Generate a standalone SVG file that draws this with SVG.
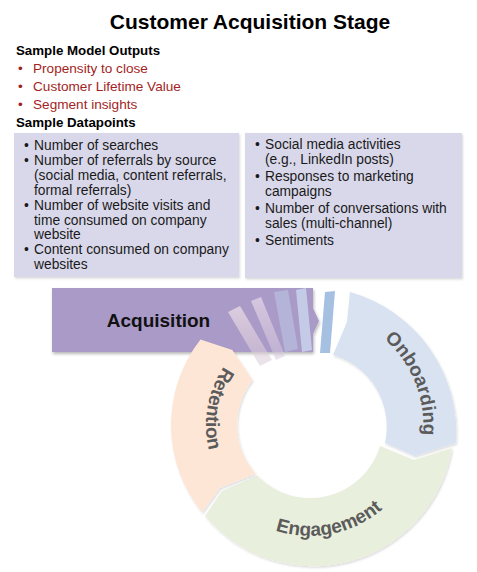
<svg xmlns="http://www.w3.org/2000/svg" width="477" height="572" viewBox="0 0 477 572">
<style>
text{font-family:"Liberation Sans",Arial,sans-serif}
.title{font-size:21px;font-weight:bold;fill:#000}
.hd{font-size:13.3px;font-weight:bold;fill:#000}
.red{font-size:13.6px;fill:#a31f24}
.bx{font-size:13.8px;fill:#1a1a1a}
.box{fill:#d9d8ea}
.lbl{font-size:19px;font-weight:bold;fill:#5b5b5b}
.acq{font-size:19px;font-weight:bold;fill:#111}
</style>
<defs>
<filter id="sh" x="-10%" y="-10%" width="125%" height="130%">
<feDropShadow dx="1" dy="2" stdDeviation="1.5" flood-color="#000" flood-opacity="0.28"/>
</filter>
<filter id="shs" x="-5%" y="-5%" width="112%" height="115%">
<feDropShadow dx="1" dy="1.5" stdDeviation="1" flood-color="#000" flood-opacity="0.15"/>
</filter>
<linearGradient id="gA" x1="0" y1="0" x2="0" y2="1">
<stop offset="0" stop-color="#e6d6e3" stop-opacity="0.85"/>
<stop offset="1" stop-color="#d8c8d6" stop-opacity="0.5"/>
</linearGradient>
<linearGradient id="gB" x1="0" y1="0" x2="0" y2="1">
<stop offset="0" stop-color="#e2d2e4" stop-opacity="0.8"/>
<stop offset="1" stop-color="#d4c6dc" stop-opacity="0.5"/>
</linearGradient>
<path id="pEng" d="M240.6,511.6 A111,111 0 0 0 407.4,478.3"/>
<path id="pOnb" d="M345,317 A113,113 0 0 1 409.8,478"/>
<path id="pRet" d="M258,334.9 A104,104 0 0 0 230.3,491.8"/>
</defs>
<rect width="477" height="572" fill="#fff"/>

<g id="title">
<text class="title" x="250" y="29" text-anchor="middle">Customer Acquisition Stage</text>
</g>

<g id="model-outputs">
<text class="hd" x="16" y="55">Sample Model Outputs</text>
<text class="red" x="18" y="73">•</text><text class="red" x="33" y="73">Propensity to close</text>
<text class="red" x="18" y="91">•</text><text class="red" x="33" y="91">Customer Lifetime Value</text>
<text class="red" x="18" y="109">•</text><text class="red" x="33" y="109">Segment insights</text>
<text class="hd" x="16" y="127">Sample Datapoints</text>
</g>

<g id="datapoints-left">
<rect class="box" x="14" y="133" width="225" height="144" filter="url(#shs)"/>
<text class="bx" x="24" y="150">•</text><text class="bx" x="34" y="150">Number of searches</text>
<text class="bx" x="24" y="165">•</text><text class="bx" x="34" y="165">Number of referrals by source</text>
<text class="bx" x="34" y="180">(social media, content referrals,</text>
<text class="bx" x="34" y="195">formal referrals)</text>
<text class="bx" x="24" y="210">•</text><text class="bx" x="34" y="210">Number of website visits and</text>
<text class="bx" x="34" y="224.5">time consumed on company</text>
<text class="bx" x="34" y="239">website</text>
<text class="bx" x="24" y="254">•</text><text class="bx" x="34" y="254">Content consumed on company</text>
<text class="bx" x="34" y="268.5">websites</text>
</g>

<g id="datapoints-right">
<rect class="box" x="245" y="133" width="217" height="145" filter="url(#shs)"/>
<text class="bx" x="255" y="149">•</text><text class="bx" x="265" y="149">Social media activities</text>
<text class="bx" x="265" y="164">(e.g., LinkedIn posts)</text>
<text class="bx" x="255" y="181">•</text><text class="bx" x="265" y="181">Responses to marketing</text>
<text class="bx" x="265" y="196">campaigns</text>
<text class="bx" x="255" y="213">•</text><text class="bx" x="265" y="213">Number of conversations with</text>
<text class="bx" x="265" y="228">sales (multi-channel)</text>
<text class="bx" x="255" y="245">•</text><text class="bx" x="265" y="245">Sentiments</text>
</g>

<g id="acquisition">
<path d="M52,288 H313 V308 L319,321 L313,334 V352 H52 Z" fill="#a99ac8" filter="url(#sh)"/>
<polygon points="228,312 240,306 272,360 260,366" fill="url(#gA)"/>
<polygon points="251,301 261,297 285,356 276,360" fill="url(#gB)"/>
<polygon points="274,292 288,290 298,349 285,352" fill="#b6b8da" opacity="0.85"/>
<polygon points="296,290 306,288 312,350 302,352" fill="#c9d4ec" opacity="0.85"/>
<polygon points="325,292 335,291 330,353 320,353" fill="#a6c0e2"/>
<text class="acq" x="158.5" y="327" text-anchor="middle">Acquisition</text>
</g>

<g id="onboarding">
<path d="M350,292 A146,146 0 0 1 456,443 L415,456 L385,443 A75,75 0 0 0 333,355 L347,322 Z" fill="#d9e2f0" filter="url(#shs)"/>
<text class="lbl"><textPath href="#pOnb" startOffset="50%" text-anchor="middle">Onboarding</textPath></text>
</g>

<g id="engagement">
<path d="M452,448 A141,141 0 0 1 205,516 L222,491 L257.5,475.7 A73,73 0 0 0 380,446 L414,460 Z" fill="#e9efdd" filter="url(#shs)"/>
<text class="lbl"><textPath href="#pEng" startOffset="50%" text-anchor="middle">Engagement</textPath></text>
</g>

<g id="retention">
<path d="M202,512.5 A139,139 0 0 1 200.5,339.4 L232.3,350 L252.5,380.1 A73,73 0 0 0 255.8,473.8 L219.9,488.1 Z" fill="#fde6d6" filter="url(#shs)"/>
<text class="lbl"><textPath href="#pRet" startOffset="50%" text-anchor="middle">Retention</textPath></text>
</g>
</svg>
